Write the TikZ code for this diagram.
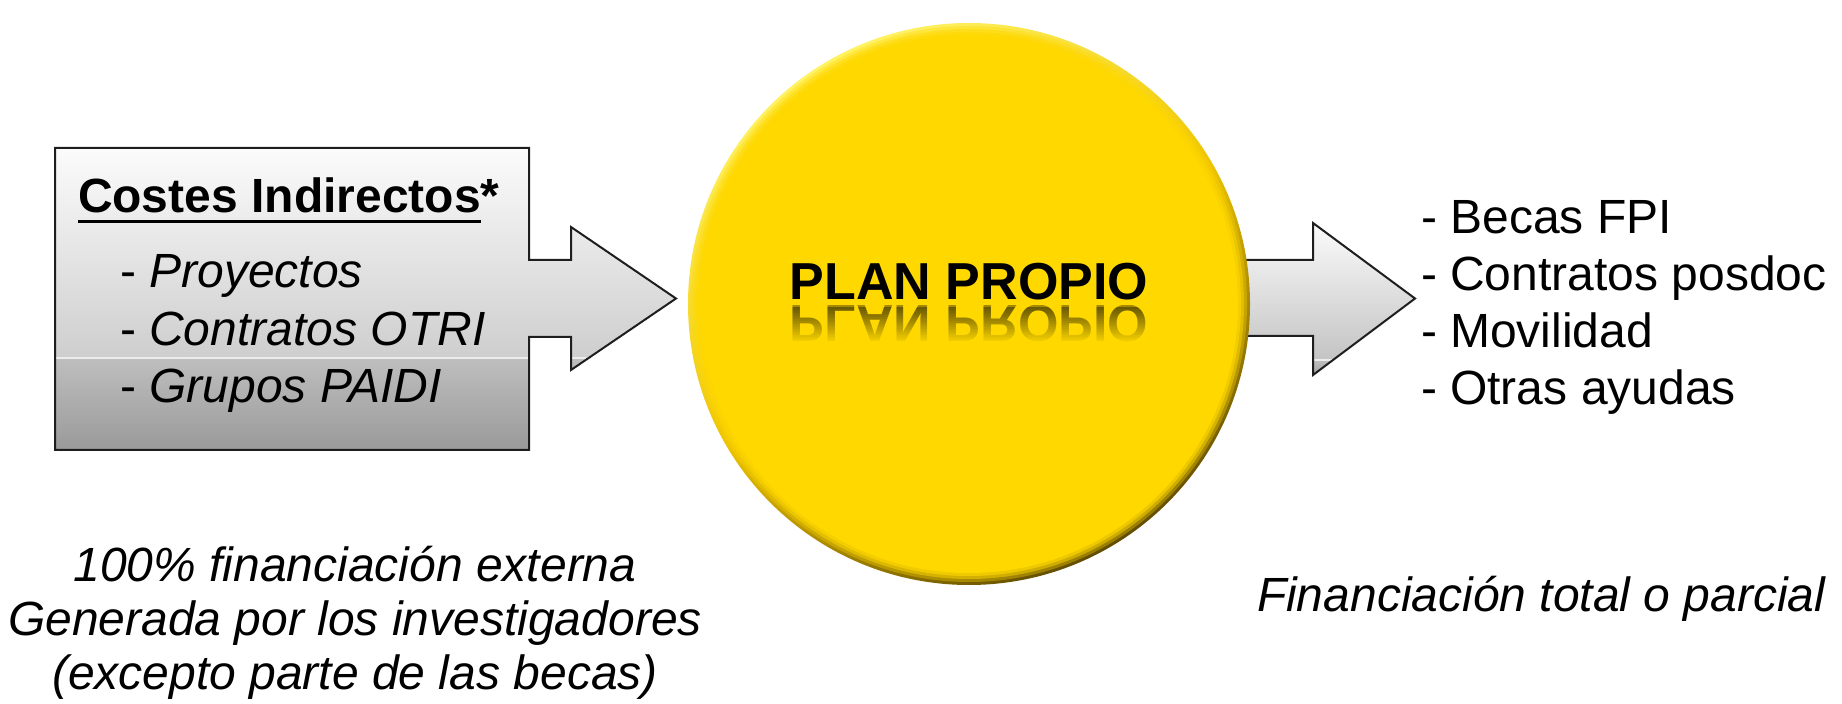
\documentclass[tikz,border=0pt]{standalone}
\usepackage{fontspec}
\setmainfont{Liberation Sans}
\definecolor{goldbase}{RGB}{255,216,0}
\definecolor{goldlight}{RGB}{255,242,100}
\definecolor{golddark}{RGB}{100,78,0}
\definecolor{goldmid}{RGB}{238,196,0}
\definecolor{edgecol}{RGB}{30,30,30}
\definecolor{boxtop}{RGB}{252,252,252}
\definecolor{boxmid}{RGB}{206,206,206}
\definecolor{boxlow}{RGB}{190,190,190}
\definecolor{boxbot}{RGB}{152,152,152}
\definecolor{glint}{RGB}{236,236,236}
\newcommand\ulbox[1]{\setbox0\hbox{#1}\rlap{\rule[-5.25pt]{\wd0}{1.5pt}}\box0}
\begin{document}
\begin{tikzpicture}[x=0.5pt,y=-0.5pt,
  txt/.style={font=\fontsize{24pt}{28.8pt}\selectfont, inner sep=0pt, outer sep=0pt, text=black},
  bigtxt/.style={font=\fontsize{26pt}{30pt}\selectfont\bfseries, inner sep=0pt, outer sep=0pt},
  shapeedge/.style={draw=edgecol, line width=1pt, line join=miter},
]
\useasboundingbox (0,0) rectangle (1842,704);

% ---- left callout (box + arrow)
\begin{scope}
  \clip (55,148) -- (529,148) -- (529,260) -- (571,260) -- (571,227) -- (676,298.5) -- (571,370) -- (571,337) -- (529,337) -- (529,450) -- (55,450) -- cycle;
  \shade[top color=boxtop, bottom color=boxmid] (50,145) rectangle (680,358);
  \shade[top color=boxlow, bottom color=boxbot] (50,358) rectangle (680,455);
  \draw[glint, line width=0.6pt] (50,358) -- (680,358);
\end{scope}
\path[shapeedge] (55,148) -- (529,148) -- (529,260) -- (571,260) -- (571,227) -- (676,298.5) -- (571,370) -- (571,337) -- (529,337) -- (529,450) -- (55,450) -- cycle;

% ---- right arrow (behind circle)
\begin{scope}
  \clip (1150,260) -- (1313,260) -- (1313,223) -- (1415,298.5) -- (1313,375) -- (1313,336) -- (1150,336) -- cycle;
  \shade[top color=boxtop, bottom color=boxmid!95!black] (1140,220) rectangle (1420,360);
  \shade[top color=boxlow, bottom color=boxbot!95!white] (1140,360) rectangle (1420,380);
  \draw[glint, line width=0.6pt] (1140,360) -- (1420,360);
\end{scope}
\path[shapeedge] (1150,260) -- (1313,260) -- (1313,223) -- (1415,298.5) -- (1313,375) -- (1313,336) -- (1150,336) -- cycle;

% ---- circle
\shade[top color=goldlight, bottom color=golddark, middle color=goldmid, shading angle=30] (969,304) circle[radius=140.5pt];
\fill[goldbase, opacity=0.35] (969,304) circle[radius=139pt];
\fill[goldbase, opacity=0.5] (969,304) circle[radius=137.5pt];
\fill[goldbase, opacity=0.65] (969,304) circle[radius=136pt];
\fill[goldbase] (969,304) circle[radius=134.5pt];

\node[bigtxt, anchor=base] (plan) at (969,300) {PLAN PROPIO};
\foreach \i in {0,...,19} {
  \pgfmathsetmacro\ya{306+2*\i}
  \pgfmathsetmacro\yb{\ya+2.3}
  \pgfmathsetmacro\op{0.36*(1-\i/19)^1.2}
  \begin{scope}
    \clip (780,\ya) rectangle (1160,\yb);
    \begin{scope}[shift={(969,306)}, yscale=-1]
      \node[bigtxt, anchor=base, transform shape, opacity=\op] (refl\i) at (0,0) {PLAN PROPIO};
    \end{scope}
  \end{scope}
}

% ---- left box texts
\node[txt, anchor=base west] (title) at (78,213) {\bfseries\ulbox{Costes Indirectos}*};
\node[txt, anchor=base west] (itA) at (120,288) {- \textit{Proyectos}};
\node[txt, anchor=base west] (itB) at (120,346) {- \textit{Contratos OTRI}};
\node[txt, anchor=base west] (itC) at (120,403) {- \textit{Grupos PAIDI}};

% ---- right list
\node[txt, anchor=base west] (rA) at (1421,234) {- Becas FPI};
\node[txt, anchor=base west] (rB) at (1421,291) {- Contratos posdoc};
\node[txt, anchor=base west] (rC) at (1421,348) {- Movilidad};
\node[txt, anchor=base west] (rD) at (1421,405) {- Otras ayudas};

% ---- bottom texts
\node[txt, font=\fontsize{24pt}{28.8pt}\selectfont\itshape, anchor=base] (bA) at (355,582) {100\% financiación externa};
\node[txt, font=\fontsize{24pt}{28.8pt}\selectfont\itshape, anchor=base] (bB) at (355,636) {Generada por los investigadores};
\node[txt, font=\fontsize{24pt}{28.8pt}\selectfont\itshape, anchor=base] (bC) at (355,690) {(excepto parte de las becas)};
\node[txt, font=\fontsize{24pt}{28.8pt}\selectfont\itshape, anchor=base west] (fin) at (1257,612) {Financiación total o parcial};
\end{tikzpicture}
\end{document}
